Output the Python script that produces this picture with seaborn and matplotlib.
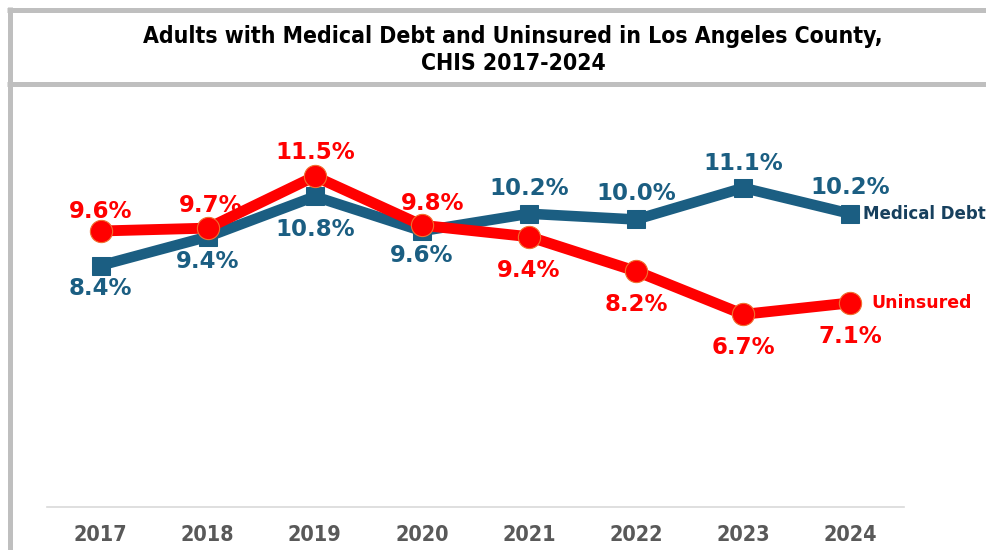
import matplotlib
matplotlib.use("Agg")
import matplotlib.pyplot as plt
from matplotlib.lines import Line2D
import pandas as pd
import seaborn as sns

years = ["2017", "2018", "2019", "2020", "2021", "2022", "2023", "2024"]
medical_debt = [8.4, 9.4, 10.8, 9.6, 10.2, 10.0, 11.1, 10.2]
uninsured = [9.6, 9.7, 11.5, 9.8, 9.4, 8.2, 6.7, 7.1]
# label offset from the point, in points (+ above, - below)
medical_off = [-16.5, -18, -23.5, -18, 18.5, 19, 17.5, 19]
uninsured_off = [14, 16.5, 17, 15.5, 24.5, 24, 24, 24.5]
uninsured_dx = [0, 2, 0, 8, 0, 0, 0, 0]

BLUE = "#1b5e82"
BLUE_TXT = "#17405e"
RED = "#ff0000"
GRAY_FRAME = "#bfbfbf"

sns.set_theme(style="white")
plt.rcParams["font.family"] = ["DejaVu Sans"]

df = pd.DataFrame({
    "x": list(range(len(years))) * 2,
    "value": medical_debt + uninsured,
    "series": ["Medical Debt"] * len(years) + ["Uninsured"] * len(years),
})

fig = plt.figure(figsize=(9.87, 5.5), dpi=100)
ax = fig.add_axes([47 / 987, 43 / 550, 857 / 987, 402.5 / 550])

sns.lineplot(data=df[df["series"] == "Medical Debt"], x="x", y="value", color=BLUE,
             linewidth=7.6, marker="s", markersize=13, markeredgecolor=BLUE, ax=ax, zorder=3)
sns.lineplot(data=df[df["series"] == "Uninsured"], x="x", y="value", color=RED,
             linewidth=7.8, marker="o", markersize=16, markeredgecolor="#f07030",
             markeredgewidth=0.8, ax=ax, zorder=4)

for i, (v, off) in enumerate(zip(medical_debt, medical_off)):
    ax.annotate(f"{v:.1f}%", (i, v), xytext=(0, off), textcoords="offset points",
                ha="center", va="center", fontsize=16.5, fontweight="bold", color=BLUE, zorder=5)
for i, (v, off) in enumerate(zip(uninsured, uninsured_off)):
    sign = 1 if i < 4 else -1
    ax.annotate(f"{v:.1f}%", (i, v), xytext=(uninsured_dx[i], off * sign), textcoords="offset points",
                ha="center", va="center", fontsize=16.5, fontweight="bold", color=RED, zorder=5)

ax.annotate("Medical Debt", (len(years) - 1, medical_debt[-1]), xytext=(9, 0),
            textcoords="offset points", ha="left", va="center", fontsize=12,
            fontweight="bold", color=BLUE_TXT, annotation_clip=False)
ax.annotate("Uninsured", (len(years) - 1, uninsured[-1]), xytext=(15, 0),
            textcoords="offset points", ha="left", va="center", fontsize=12.5,
            fontweight="bold", color=RED, annotation_clip=False)

ax.set_xlim(-0.5, len(years) - 0.5)
ax.set_ylim(0, 14)
ax.set_xticks(range(len(years)))
ax.set_xticklabels(years, fontsize=15.5, fontweight="bold", color="#595959",
                   fontstretch="condensed")
ax.set_yticks([])
ax.set_xlabel("")
ax.set_ylabel("")
ax.tick_params(axis="x", length=0, pad=13)
for s in ["top", "right", "left"]:
    ax.spines[s].set_visible(False)
ax.spines["bottom"].set_color("#d9d9d9")
ax.spines["bottom"].set_linewidth(1.2)
legend = ax.get_legend()
if legend:
    legend.remove()

# frame around the chart and title box
W, H = 987, 550
for xs, ys in [([7 / W, 1], [1 - 9.5 / H] * 2),
               ([7 / W, 1], [1 - 84.5 / H] * 2),
               ([9.5 / W] * 2, [0, 1 - 7 / H])]:
    fig.add_artist(Line2D(xs, ys, color=GRAY_FRAME, linewidth=3.6, solid_capstyle="butt"))

fig.text(513 / W, 1 - 50 / H, "Adults with Medical Debt and Uninsured in Los Angeles County,\nCHIS 2017-2024",
         ha="center", va="center", fontsize=16.5, fontweight="bold", color="black",
         fontstretch="condensed", linespacing=1.2)

fig.savefig("out.png", dpi=100)
